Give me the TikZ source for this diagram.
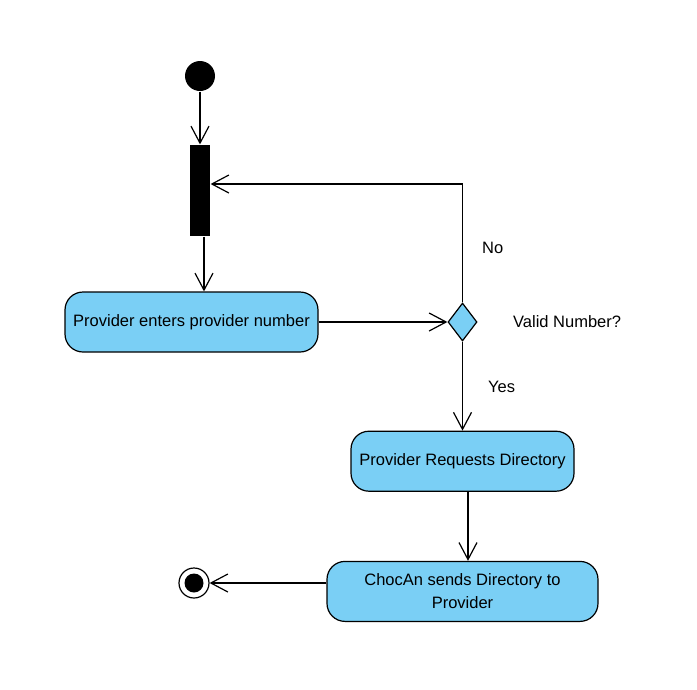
\documentclass[tikz,border=0pt]{standalone}
\usepackage{fontspec}
\setmainfont{Liberation Sans}
\usetikzlibrary{shapes,arrows.meta,positioning,calc}
\definecolor{actblue}{RGB}{122,207,245}

\begin{document}
\begin{tikzpicture}[x=1pt, y=-1pt, line width=1.2pt,
    font=\fontsize{16.5}{22.7}\selectfont,
    action/.style={draw, fill=actblue, rounded corners=18pt, minimum height=60pt, align=center, inner sep=0pt},
    flow/.style={-{Straight Barb[length=17pt,width=18pt]}},
    lbl/.style={inner sep=0pt, anchor=west}]
    \useasboundingbox [fill=white] (0,0) rectangle (697,689);

    \node [circle, fill=black, minimum size=30pt, inner sep=0pt] (start) at (200,76) {};
    \node [fill=black, minimum width=20pt, minimum height=91pt, inner sep=0pt] (bar) at (200,190.5) {};
    \node [action, minimum width=253pt] (enter) at (191.5,322) {Provider enters provider number};
    \node [diamond, draw, fill=actblue, minimum width=29pt, minimum height=38pt, inner sep=0pt] (valid) at (462.5,322) {};
    \node [action, minimum width=223pt, below=89pt of valid] (request) {Provider Requests Directory};
    \node [action, minimum width=271pt, below=69pt of request] (send) {ChocAn sends Directory to\\Provider};
    \node [circle, draw, fill=white, minimum size=30pt, inner sep=0pt] (stop) at (194,583) {};
    \node [circle, fill=black, minimum size=19pt, inner sep=0pt] (stopdot) at (stop) {};

    \node [lbl] (no) at (481.5,248) {No};
    \node [lbl, right=35pt of valid] (question) {Valid Number?};
    \node [lbl] (yes) at (487.5,386.5) {Yes};

    % flows
    \draw [flow] (start) -- (bar);
    \draw [flow] ([xshift=4pt]bar.south) -- ([xshift=4pt]bar.south |- enter.north);
    \draw [flow] (enter) -- (valid);
    \draw [flow] (valid.north) |- ([yshift=6.5pt]bar.east);
    \draw [flow] (valid) -- (valid |- request.north);
    \draw [flow] ([xshift=5.5pt]request.south) -- ([xshift=5.5pt]request.south |- send.north);
    \draw [flow] (stop -| send.west) -- (stop);
\end{tikzpicture}
\end{document}
